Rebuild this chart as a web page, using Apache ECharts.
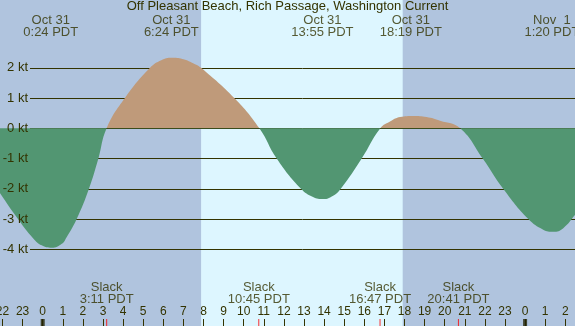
<!DOCTYPE html>
<html>
<head>
<meta charset="utf-8">
<script src="https://cdn.jsdelivr.net/npm/echarts@6/dist/echarts.min.js"></script>
<style>
  html, body { margin: 0; padding: 0; background: #b0c4de; }
  #chart { width: 575px; height: 326px; }
</style>
</head>
<body>
<div id="chart"></div>
<script>
// current readings: hours from midnight Oct 31 (PDT) and knots
const times = [-3, -2.12, -1.23, -0.47, -0.05, 0.45, 0.95, 1.19, 1.69, 2.3, 2.77, 3.18,
  4.09, 5.34, 5.9, 6.42, 6.95, 7.58, 7.88, 9.53, 10.78, 11.64, 12.85, 13.45, 13.96,
  14.45, 14.83, 15.87, 16.8, 17.3, 17.78, 18.44, 19.1, 19.77, 20.77, 21.89, 22.91,
  24.16, 24.9, 25.4, 25.9, 26.48, 27.2];
const knots = [-1.25, -2.15, -3, -3.64, -3.87, -3.95, -3.82, -3.6, -3, -2, -1, 0,
  1, 2, 2.25, 2.33, 2.29, 2.12, 2, 1, 0, -1, -2, -2.27, -2.34,
  -2.23, -2, -1, 0, 0.23, 0.37, 0.41, 0.37, 0.25, 0, -1, -2,
  -3, -3.35, -3.42, -3.3, -2.87, -2.3];

const maxHours = [0.4, 6.4, 13.917, 18.317, 25.333];
const maxDates = ['Oct 31', 'Oct 31', 'Oct 31', 'Oct 31', 'Nov  1'];
const maxClock = ['0:24 PDT', '6:24 PDT', '13:55 PDT', '18:19 PDT', '1:20 PDT'];

const slackHours = [3.183, 10.75, 16.783, 20.683];
const slackClock = ['3:11 PDT', '10:45 PDT', '16:47 PDT', '20:41 PDT'];

const midnights = [0, 24];
const daylight = [7.88, 17.91];

const ink = '#333300';
const floodColor = '#bf9a7a';
const ebbColor = '#529672';
const font = "'Liberation Sans', Arial, sans-serif";
const hMin = -3, hMax = 27;
const kMin = -6, kMax = 4;

const chart = echarts.init(document.getElementById('chart'));

const xBase = {
  type: 'value', min: hMin, max: hMax, interval: 1,
  axisLine: { show: false }, splitLine: { show: false }
};

chart.setOption({
  backgroundColor: '#b0c4de',
  animation: false,
  textStyle: { fontFamily: font },
  title: {
    text: 'Off Pleasant Beach, Rich Passage, Washington Current',
    left: 'center', top: 0, padding: 0,
    textStyle: { fontSize: 13, fontWeight: 'normal', color: ink, fontFamily: font }
  },
  grid: [
    { left: -17.6, right: -10.4, top: 0, bottom: 0, outerBoundsMode: 'none' },      // background + time axis
    { left: -17.6, right: -10.4, top: 7.3, bottom: 16.2, outerBoundsMode: 'none' }, // current curve
    { left: 30, right: 0, top: 67.8, bottom: 76.7, outerBoundsMode: 'none' }        // knot lines
  ],
  xAxis: [
    Object.assign({}, xBase, {
      gridIndex: 0, z: 4,
      axisTick: { inside: true, length: 7, lineStyle: { color: ink } },
      axisLabel: {
        inside: true, margin: 8, fontSize: 12, color: ink, fontFamily: font,
        formatter: v => String(((v % 24) + 24) % 24)
      }
    }),
    Object.assign({}, xBase, { gridIndex: 1, show: false }),
    { type: 'value', gridIndex: 2, show: false, min: 0, max: 1 }
  ],
  yAxis: [
    { type: 'value', gridIndex: 0, min: 0, max: 1, show: false },
    { type: 'value', gridIndex: 1, min: kMin, max: kMax, interval: 1, show: false },
    {
      type: 'value', gridIndex: 2, min: -4, max: 2, interval: 1, z: 2, position: 'left',
      axisLine: { show: false }, axisTick: { show: false }, axisLabel: { show: false },
      splitLine: { show: true, lineStyle: { color: ink, width: 1 } }
    },
    {
      type: 'value', gridIndex: 2, min: -4, max: 2, interval: 1, z: 4, position: 'left', offset: 0,
      axisLine: { show: false }, axisTick: { show: false }, splitLine: { show: false },
      axisLabel: { margin: 2, fontSize: 13, color: ink, fontFamily: font, formatter: '{value} kt' }
    }
  ],
  series: [
    {
      type: 'scatter', xAxisIndex: 0, yAxisIndex: 0, z: 1,
      data: [], symbolSize: 0,
      markArea: {
        silent: true,
        itemStyle: { color: '#ddf6ff' },
        data: [[{ xAxis: daylight[0], yAxis: 0 }, { xAxis: daylight[1], yAxis: 1 }]]
      }
    },
    {
      type: 'line', xAxisIndex: 1, yAxisIndex: 1, z: 3,
      data: times.map((t, i) => [t, knots[i]]),
      smooth: 0.45, symbol: 'none',
      lineStyle: { width: 0 },
      areaStyle: { opacity: 1, color: ebbColor }
    },
    {
      type: 'scatter', xAxisIndex: 0, yAxisIndex: 0, z: 5,
      data: maxHours.map(h => [h, 1]), symbolSize: 0,
      label: {
        show: true, position: 'bottom', distance: 14,
        fontSize: 13, lineHeight: 12, color: ink, fontFamily: font, align: 'center',
        formatter: p => maxDates[p.dataIndex] + '\n' + maxClock[p.dataIndex]
      }
    },
    {
      type: 'scatter', xAxisIndex: 0, yAxisIndex: 0, z: 5,
      data: slackHours.map(h => [h, 0]), symbolSize: 0,
      label: {
        show: true, position: 'top', distance: 20.5,
        fontSize: 13, lineHeight: 12, color: ink, fontFamily: font, align: 'center',
        formatter: p => 'Slack\n' + slackClock[p.dataIndex]
      }
    },
    {
      type: 'scatter', xAxisIndex: 0, yAxisIndex: 0, z: 5,
      data: slackHours.map(h => [h, 0]),
      symbol: 'rect', symbolSize: [1, 7], symbolOffset: [0, -3.5],
      itemStyle: { color: '#ff0000' }
    },
    {
      type: 'scatter', xAxisIndex: 0, yAxisIndex: 0, z: 5,
      data: midnights.map(h => [h, 0]),
      symbol: 'rect', symbolSize: [4, 7], symbolOffset: [0, -3.5],
      itemStyle: { color: '#222200' }
    }
  ]
});

// split the fill colour at the 0 kt level
const yTop = chart.convertToPixel({ yAxisIndex: 1 }, kMax);
const yBot = chart.convertToPixel({ yAxisIndex: 1 }, kMin);
const yZero = chart.convertToPixel({ yAxisIndex: 1 }, 0);
const cut = (yZero - yTop) / (yBot - yTop);
chart.setOption({
  series: [{}, {
    areaStyle: {
      color: new echarts.graphic.LinearGradient(0, yTop, 0, yBot, [
        { offset: 0, color: floodColor },
        { offset: cut, color: floodColor },
        { offset: cut, color: ebbColor },
        { offset: 1, color: ebbColor }
      ], true)
    }
  }]
});
</script>
</body>
</html>
